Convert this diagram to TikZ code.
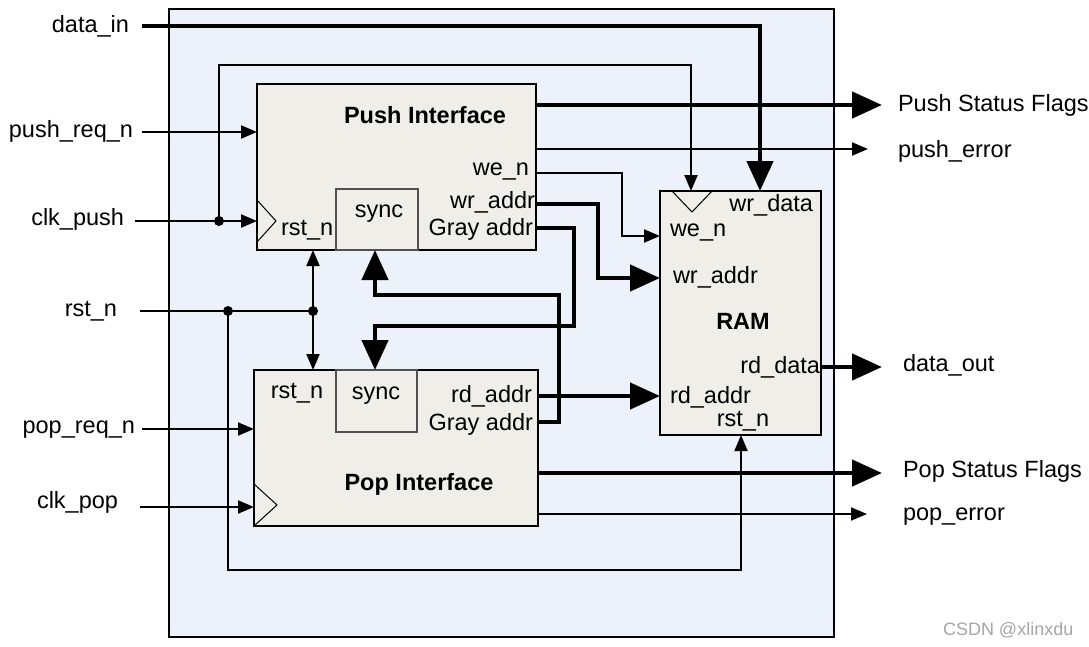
\documentclass[tikz,border=0pt]{standalone}
\usepackage{fontspec}
\setmainfont{Liberation Sans}
\usetikzlibrary{arrows.meta}
\definecolor{outerfill}{HTML}{EDF2FA}
\definecolor{blkfill}{HTML}{F0EEE9}
\definecolor{wmark}{HTML}{A6A6A6}
\definecolor{syncline}{HTML}{505050}
\begin{document}
\begin{tikzpicture}[x=1pt,y=-1pt,
  font=\fontsize{23.5}{28}\selectfont,
  outerbox/.style={draw=black,line width=2.5pt,fill=outerfill,inner sep=0pt,outer sep=0pt},
  blk/.style={draw=black,line width=2.5pt,fill=blkfill,inner sep=0pt,outer sep=0pt},
  syncbox/.style={draw=syncline,line width=1.3pt,fill=blkfill,inner sep=0pt,outer sep=0pt},
  sig/.style={line width=2pt},
  bus/.style={line width=4.5pt},
  tipS/.style={-{Triangle[length=16pt,width=13pt]}},
  tipL/.style={-{Triangle[length=30pt,width=26pt]}},
  clkmark/.style={line width=1pt},
  lbl/.style={inner sep=0pt,outer sep=0pt},
  dot/.style={circle,fill=black,inner sep=0pt,minimum size=10pt}]
\useasboundingbox (0,0) rectangle (1089,646);
\fill[white] (0,0) rectangle (1089,646);

% blocks
\node[outerbox,minimum width=665pt,minimum height=628pt] (outer) at (501.5,323) {};
\node[blk,minimum width=279pt,minimum height=166pt] (push) at (396.5,167) {};
\node[syncbox,minimum width=82pt,minimum height=61pt] (psync) at (377,219.5) {};
\node[blk,minimum width=284pt,minimum height=156pt] (pop) at (396,448) {};
\node[syncbox,minimum width=81pt,minimum height=62pt] (qsync) at (376.5,401) {};
\node[blk,minimum width=161pt,minimum height=244pt] (ram) at (740.5,313) {};

% clock marks
\draw[clkmark] (257,200) -- (276,221) -- (257,242);
\draw[clkmark] (254,484) -- (277,505) -- (254,526);
\draw[clkmark] (672,191) -- (692,212) -- (712,191);

% texts in blocks
\node[lbl,anchor=base,font=\fontsize{23.5}{28}\selectfont\bfseries] (tpush) at (425,123) {Push Interface};
\node[lbl,anchor=base east] (twen) at (529,175) {we\_n};
\node[lbl,anchor=base east] (twra) at (535,208) {wr\_addr};
\node[lbl,anchor=base east] (tpg) at (533,235) {Gray addr};
\node[lbl,anchor=base west] (tprst) at (281,235) {rst\_n};
\node[lbl,anchor=base] (tps) at (379,217) {sync};

\node[lbl,anchor=base,font=\fontsize{23.5}{28}\selectfont\bfseries] (tpop) at (419,490) {Pop Interface};
\node[lbl,anchor=base] (tqrst) at (297,398) {rst\_n};
\node[lbl,anchor=base] (tqs) at (376,399) {sync};
\node[lbl,anchor=base east] (trda) at (532,402) {rd\_addr};
\node[lbl,anchor=base east] (tqg) at (533,430) {Gray addr};

\node[lbl,anchor=base east] (trwd) at (813,211) {wr\_data};
\node[lbl,anchor=base west] (trwe) at (670,236) {we\_n};
\node[lbl,anchor=base west] (trwa) at (673,283) {wr\_addr};
\node[lbl,anchor=base,font=\fontsize{23.5}{28}\selectfont\bfseries] (tram) at (743,329) {RAM};
\node[lbl,anchor=base east] (trrd) at (820,373) {rd\_data};
\node[lbl,anchor=base west] (trra) at (670,403) {rd\_addr};
\node[lbl,anchor=base] (trrst) at (743,426) {rst\_n};

% outside labels
\node[lbl,anchor=base east] (ldin) at (129,32) {data\_in};
\node[lbl,anchor=base east] (lpreq) at (133,137) {push\_req\_n};
\node[lbl,anchor=base east] (lcpush) at (124,225) {clk\_push};
\node[lbl,anchor=base east] (lrst) at (117,316) {rst\_n};
\node[lbl,anchor=base east] (lqreq) at (135,433) {pop\_req\_n};
\node[lbl,anchor=base east] (lcpop) at (118,508) {clk\_pop};

\node[lbl,anchor=base west] (lpsf) at (898,111) {Push Status Flags};
\node[lbl,anchor=base west] (lperr) at (898,157) {push\_error};
\node[lbl,anchor=base west] (ldout) at (903,371) {data\_out};
\node[lbl,anchor=base west] (lqsf) at (903,477) {Pop Status Flags};
\node[lbl,anchor=base west] (lqerr) at (903,520) {pop\_error};
\node[lbl,anchor=base west,text=wmark,font=\fontsize{18}{21}\selectfont] (wm) at (943,635) {CSDN @xlinxdu};

% coordinates
\coordinate (dinS) at (142,26);
\coordinate (ramWD) at (760,191);
\coordinate (preqS) at (142,132);
\coordinate (preqE) at (257,132);
\coordinate (cpS) at (135,221);
\coordinate (cpJ) at (219,221);
\coordinate (cpE) at (257,221);
\coordinate (cpTop) at (219,65);
\coordinate (ramClk) at (691,191);
\coordinate (rS) at (140,311);
\coordinate (rJ1) at (228,311);
\coordinate (rJ2) at (313,311);
\coordinate (pushRst) at (313,250);
\coordinate (popRst) at (313,370);
\coordinate (rBot) at (228,570);
\coordinate (ramRst) at (741,435);
\coordinate (qreqS) at (142,429);
\coordinate (qreqE) at (254,429);
\coordinate (cqS) at (140,507);
\coordinate (cqE) at (254,507);

\coordinate (psfS) at (536,105);
\coordinate (psfE) at (882,105);
\coordinate (perrS) at (536,149);
\coordinate (perrE) at (868,149);
\coordinate (weS) at (536,173);
\coordinate (weE) at (660,236);
\coordinate (waS) at (536,204);
\coordinate (waE) at (660,278);
\coordinate (pgS) at (536,228);
\coordinate (qsyncTop) at (375,370);
\coordinate (raS) at (538,396);
\coordinate (raE) at (660,396);
\coordinate (qgS) at (538,422);
\coordinate (psyncBot) at (375,250);
\coordinate (qsfS) at (538,473);
\coordinate (qsfE) at (882,473);
\coordinate (qerrS) at (538,514);
\coordinate (qerrE) at (867,514);
\coordinate (rdS) at (821,367);
\coordinate (rdE) at (882,367);

% inputs
\draw[bus,tipL] (dinS) -| (ramWD);
\draw[sig,tipS] (preqS) -- (preqE);
\draw[sig,tipS] (cpS) -- (cpE);
\draw[sig,tipS] (cpJ) -- (cpTop) -| (ramClk);
\draw[sig] (rS) -- (rJ2);
\draw[sig,tipS] (rJ2) -- (pushRst);
\draw[sig,tipS] (rJ2) -- (popRst);
\draw[sig,tipS] (rJ1) -- (rBot) -| (ramRst);
\draw[sig,tipS] (qreqS) -- (qreqE);
\draw[sig,tipS] (cqS) -- (cqE);
\node[dot] at (cpJ) {};
\node[dot] at (rJ1) {};
\node[dot] at (rJ2) {};

% push outputs
\draw[bus,tipL] (psfS) -- (psfE);
\draw[sig,tipS] (perrS) -- (perrE);
\draw[sig,tipS] (weS) -- (622,173) -- (622,236) -- (weE);
\draw[bus,tipL] (waS) -- (598,204) -- (598,278) -- (waE);
\draw[bus,tipL] (pgS) -- (574,228) -- (574,326) -- (375,326) -- (qsyncTop);

% pop outputs
\draw[bus,tipL] (raS) -- (raE);
\draw[bus,tipL] (qgS) -- (559,422) -- (559,295) -- (375,295) -- (psyncBot);
\draw[bus,tipL] (qsfS) -- (qsfE);
\draw[sig,tipS] (qerrS) -- (qerrE);

% ram output
\draw[bus,tipL] (rdS) -- (rdE);
\end{tikzpicture}
\end{document}
